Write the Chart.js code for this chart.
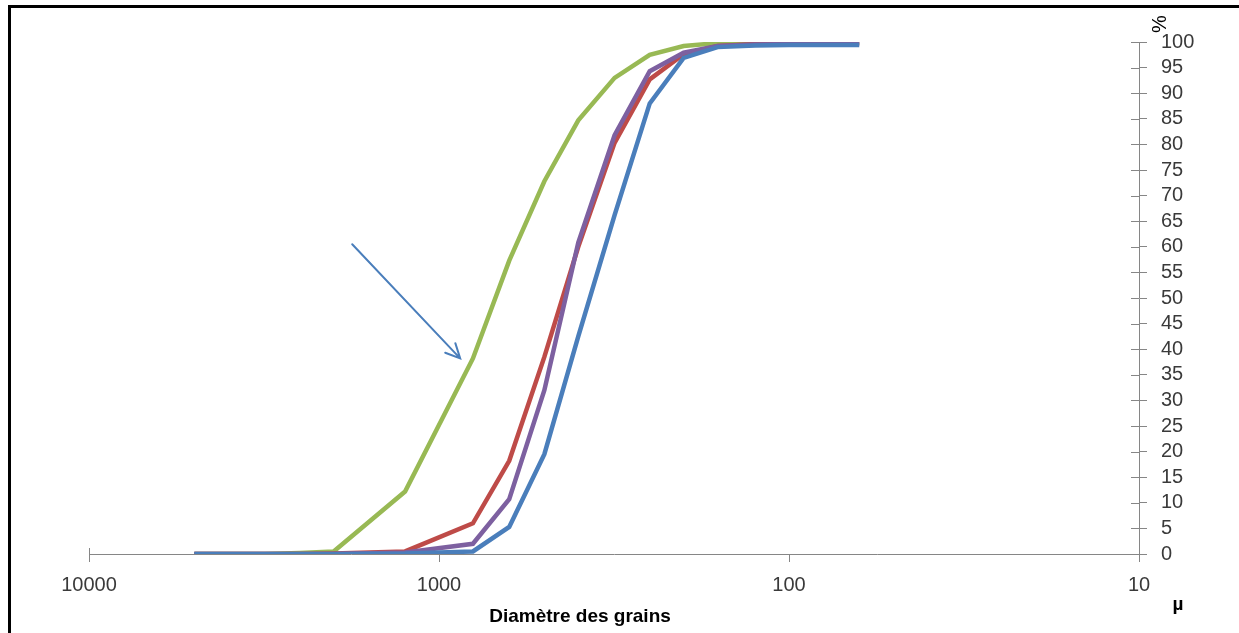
<!DOCTYPE html>
<html>
<head>
<meta charset="utf-8">
<script src="https://cdn.jsdelivr.net/npm/chart.js@4.4.1/dist/chart.umd.min.js"></script>
<style>
  html, body { margin: 0; padding: 0; background: #fff; }
  canvas { display: block; }
</style>
</head>
<body>
<canvas id="chartGrains" width="1239" height="633"></canvas>
<script>
// ======== DATI ========
// diametri dei tamis (µm)
const sizes = [5000, 4000, 3150, 2500, 2000, 1250, 800, 630, 500, 400, 315, 250, 200, 160, 125, 100, 80, 63];

// passants cumulés (%)
const blueVals   = [0, 0, 0, 0, 0,   0.1, 0.5, 5.3, 19.5, 42.5, 66.2, 88.0, 96.9, 99.0, 99.3, 99.4, 99.4, 99.4];
const purpleVals = [0, 0, 0, 0, 0,   0.3, 2.0, 10.7, 32.0, 60.8, 81.8, 94.3, 97.9, 99.2, 99.5, 99.6, 99.6, 99.7];
const redVals    = [0, 0, 0, 0, 0.1, 0.5, 6.0, 18.2, 38.5, 60.0, 80.3, 92.7, 97.6, 99.2, 99.6, 99.7, 99.7, 99.8];
const greenVals  = [0, 0, 0, 0.2, 0.5, 12.2, 38.2, 57.3, 72.8, 84.7, 93.0, 97.5, 99.2, 99.8, 100, 100, 100, 100];

const xTicks = [10000, 1000, 100, 10];

// flèche d'annotation (diamètre, %)
const arrowFrom = [1770, 60.5];
const arrowTo   = [870, 38.2];

const axisColor = '#868686';
const textColor = '#3a3a3a';
const tickFont = { family: '"Liberation Sans", Arial, sans-serif', size: 20 };

function toPoints(vals) {
    return sizes.map((s, i) => ({ x: s, y: vals[i] }));
}

function serie(vals, color) {
    return {
        data: toPoints(vals),
        borderColor: color,
        borderWidth: 4.5,
        pointRadius: 0,
        fill: false,
        tension: 0
    };
}

// ======== PLUGIN: textes, flèche, cadre ========
const extras = {
    id: 'extras',
    afterDraw(chart) {
        const ctx = chart.ctx;
        const x = chart.scales.x;
        const y = chart.scales.y;

        ctx.save();
        // demi-graduations côté intérieur de l'axe vertical
        ctx.strokeStyle = axisColor;
        ctx.lineWidth = 1;
        for (let v = 0; v <= 100; v += 5) {
            const py = Math.round(y.getPixelForValue(v)) + 0.5;
            ctx.beginPath();
            ctx.moveTo(x.right - 8, py);
            ctx.lineTo(x.right, py);
            ctx.stroke();
        }
        // graduation 10000 traversante
        const p0 = Math.round(x.getPixelForValue(10000)) + 0.5;
        ctx.beginPath();
        ctx.moveTo(p0, y.bottom - 6);
        ctx.lineTo(p0, y.bottom);
        ctx.stroke();

        // flèche
        const ax1 = x.getPixelForValue(arrowFrom[0]), ay1 = y.getPixelForValue(arrowFrom[1]);
        const ax2 = x.getPixelForValue(arrowTo[0]),   ay2 = y.getPixelForValue(arrowTo[1]);
        ctx.strokeStyle = '#4A7EBB';
        ctx.lineWidth = 2;
        ctx.lineCap = 'round';
        ctx.beginPath();
        ctx.moveTo(ax1, ay1);
        ctx.lineTo(ax2, ay2);
        const ang = Math.atan2(ay2 - ay1, ax2 - ax1);
        const L = 16;
        ctx.moveTo(ax2 - L * Math.cos(ang - 0.45), ay2 - L * Math.sin(ang - 0.45));
        ctx.lineTo(ax2, ay2);
        ctx.lineTo(ax2 - L * Math.cos(ang + 0.45), ay2 - L * Math.sin(ang + 0.45));
        ctx.stroke();

        // titres
        ctx.fillStyle = '#000';
        ctx.font = 'bold 19px "Liberation Sans", Arial, sans-serif';
        ctx.textAlign = 'center';
        ctx.textBaseline = 'middle';
        ctx.fillText('Diamètre des grains', 580, 617);
        ctx.fillText('µ', 1178, 605);

        ctx.save();
        ctx.translate(1160, 24);
        ctx.rotate(-Math.PI / 2);
        ctx.font = '20px "Liberation Sans", Arial, sans-serif';
        ctx.fillText('%', 0, 0);
        ctx.restore();

        // cadre
        ctx.fillStyle = '#000';
        ctx.fillRect(8, 5, 1239 - 8, 3);
        ctx.fillRect(8, 5, 3, 633 - 5);
        ctx.restore();
    }
};

// ======== CHART ========
const ctx = document.getElementById('chartGrains').getContext('2d');
new Chart(ctx, {
    type: 'line',
    data: {
        datasets: [
            serie(blueVals,   '#4A7EBB'),
            serie(purpleVals, '#7D60A0'),
            serie(redVals,    '#BE4B48'),
            serie(greenVals,  '#98B954')
        ]
    },
    options: {
        responsive: false,
        animation: false,
        layout: { padding: { left: 89, top: 42, right: 0, bottom: 0 } },
        plugins: { legend: { display: false }, tooltip: { enabled: false } },
        scales: {
            x: {
                type: 'logarithmic',
                reverse: true,
                min: 10,
                max: 10000,
                position: 'bottom',
                afterBuildTicks: s => { s.ticks = xTicks.map(v => ({ value: v })); },
                afterFit: s => { s.height = 633 - 554; },
                ticks: {
                    autoSkip: false,
                    maxRotation: 0,
                    color: textColor,
                    font: tickFont,
                    padding: 11,
                    callback: v => String(v)
                },
                grid: { drawOnChartArea: false, color: axisColor, tickLength: 8 },
                border: { color: axisColor }
            },
            y: {
                position: 'right',
                min: 0,
                max: 100,
                afterFit: s => { s.width = 1239 - 1139; },
                ticks: {
                    stepSize: 5,
                    autoSkip: false,
                    color: textColor,
                    font: tickFont,
                    padding: 14
                },
                grid: { drawOnChartArea: false, color: axisColor, tickLength: 8 },
                border: { color: axisColor }
            }
        }
    },
    plugins: [extras]
});
</script>
</body>
</html>
